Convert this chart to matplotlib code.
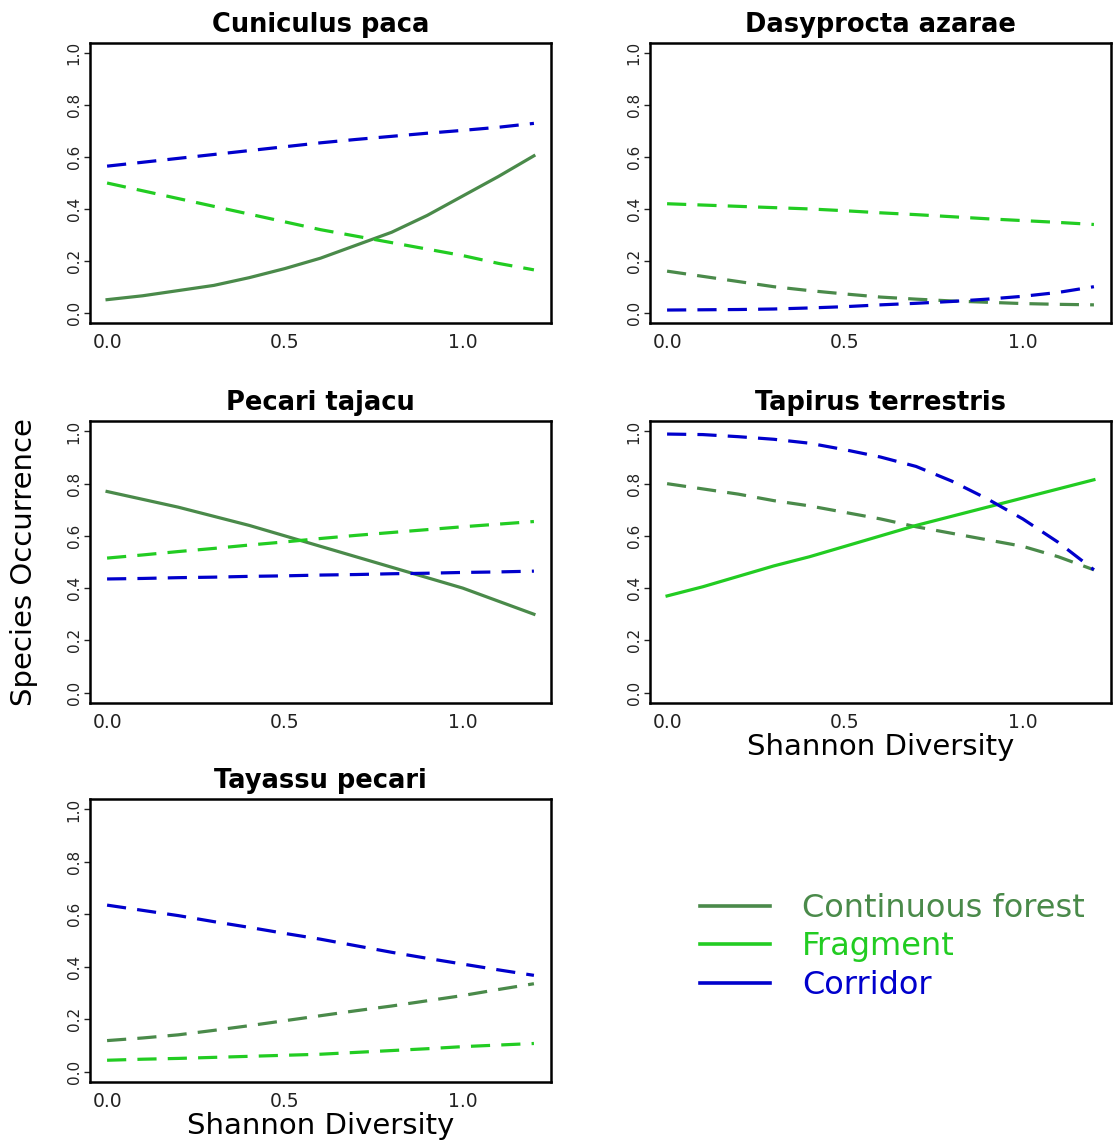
import matplotlib.pyplot as plt
from matplotlib.lines import Line2D

# Shannon diversity values where the curves were read
x = [0.0, 0.1, 0.2, 0.3, 0.4, 0.5, 0.6, 0.7, 0.8, 0.9, 1.0, 1.1, 1.2]

species = ["Cuniculus paca", "Dasyprocta azarae", "Pecari tajacu",
           "Tapirus terrestris", "Tayassu pecari"]

# predicted occurrence, one list per habitat and species
paca_cont = [0.05, 0.065, 0.085, 0.105, 0.135, 0.17, 0.21, 0.26, 0.31, 0.375, 0.45, 0.525, 0.605]
paca_frag = [0.50, 0.47, 0.44, 0.41, 0.38, 0.35, 0.32, 0.295, 0.27, 0.245, 0.22, 0.19, 0.165]
paca_corr = [0.565, 0.58, 0.595, 0.61, 0.625, 0.64, 0.655, 0.668, 0.68, 0.692, 0.703, 0.715, 0.73]

dasy_cont = [0.16, 0.14, 0.12, 0.10, 0.085, 0.072, 0.06, 0.052, 0.045, 0.04, 0.035, 0.032, 0.03]
dasy_frag = [0.42, 0.415, 0.41, 0.405, 0.40, 0.393, 0.385, 0.378, 0.37, 0.362, 0.355, 0.348, 0.34]
dasy_corr = [0.01, 0.011, 0.012, 0.014, 0.018, 0.023, 0.03, 0.036, 0.043, 0.052, 0.063, 0.078, 0.10]

taja_cont = [0.77, 0.74, 0.71, 0.675, 0.64, 0.60, 0.56, 0.52, 0.48, 0.44, 0.40, 0.35, 0.30]
taja_frag = [0.515, 0.527, 0.54, 0.552, 0.565, 0.577, 0.59, 0.602, 0.613, 0.624, 0.635, 0.645, 0.655]
taja_corr = [0.435, 0.437, 0.44, 0.442, 0.445, 0.447, 0.45, 0.452, 0.455, 0.457, 0.46, 0.462, 0.465]

tapi_cont = [0.80, 0.78, 0.76, 0.735, 0.715, 0.69, 0.665, 0.635, 0.61, 0.585, 0.56, 0.52, 0.47]
tapi_frag = [0.37, 0.405, 0.445, 0.485, 0.52, 0.56, 0.60, 0.64, 0.675, 0.71, 0.745, 0.78, 0.815]
tapi_corr = [0.99, 0.988, 0.98, 0.97, 0.955, 0.93, 0.902, 0.866, 0.81, 0.742, 0.665, 0.575, 0.47]

taya_cont = [0.118, 0.128, 0.14, 0.157, 0.175, 0.194, 0.213, 0.232, 0.25, 0.27, 0.29, 0.313, 0.335]
taya_frag = [0.043, 0.047, 0.05, 0.054, 0.058, 0.062, 0.066, 0.073, 0.08, 0.087, 0.095, 0.101, 0.107]
taya_corr = [0.635, 0.615, 0.595, 0.572, 0.55, 0.527, 0.505, 0.48, 0.455, 0.432, 0.41, 0.388, 0.367]

# which curve is drawn solid in each panel (None = all dashed)
solid = ["cont", None, "cont", "frag", None]

habitats = ["Continuous forest", "Fragment", "Corridor"]
colors = {"cont": "#4A8A4A", "frag": "#22CC22", "corr": "#0000CC"}

data = [
    {"cont": paca_cont, "frag": paca_frag, "corr": paca_corr},
    {"cont": dasy_cont, "frag": dasy_frag, "corr": dasy_corr},
    {"cont": taja_cont, "frag": taja_frag, "corr": taja_corr},
    {"cont": tapi_cont, "frag": tapi_frag, "corr": tapi_corr},
    {"cont": taya_cont, "frag": taya_frag, "corr": taya_corr},
]

W, H = 1113, 1140
fig = plt.figure(figsize=(W / 100, H / 100), dpi=100)

# axes boxes in pixels: left, top, width, height
boxes = [(90, 43, 461, 280), (650, 43, 461, 280),
         (90, 421, 461, 282), (650, 421, 461, 282),
         (90, 799, 461, 283)]

for i, (l, t, w, h) in enumerate(boxes):
    ax = fig.add_axes([l / W, 1 - (t + h) / H, w / W, h / H])
    for key in ["cont", "frag", "corr"]:
        if solid[i] == key:
            ax.plot(x, data[i][key], color=colors[key], lw=2.3)
        else:
            ax.plot(x, data[i][key], color=colors[key], lw=2.3,
                    dashes=(6, 3.5))
    ax.set_xlim(-0.048, 1.248)
    ax.set_ylim(-0.04, 1.04)
    ax.set_xticks([0.0, 0.5, 1.0])
    ax.set_xticklabels(["0.0", "0.5", "1.0"], fontsize=13.5)
    ax.set_yticks([0.0, 0.2, 0.4, 0.6, 0.8, 1.0])
    ax.set_yticklabels(["0.0", "0.2", "0.4", "0.6", "0.8", "1.0"],
                       fontsize=11, rotation=90, va="center")
    ax.tick_params(axis="x", length=0, pad=7, colors="#222222")
    ax.tick_params(axis="y", length=4, width=1, pad=2, colors="#222222")
    for s in ax.spines.values():
        s.set_linewidth(1.8)
    ax.set_title(species[i], fontsize=18.5, fontweight="bold", pad=8)
    if i in (3, 4):
        ax.set_xlabel("Shannon Diversity", fontsize=21, labelpad=1)

fig.text(24 / W, 1 - 562 / H, "Species Occurrence", fontsize=21,
         rotation=90, ha="center", va="center")

handles = [Line2D([], [], color=colors[k], lw=2.6) for k in ["cont", "frag", "corr"]]
fig.legend(handles, habitats, loc="upper left",
           bbox_to_anchor=(671 / W, 1 - 864 / H), frameon=False,
           fontsize=23, handlelength=2.2, handletextpad=1.0,
           labelspacing=0.24, labelcolor="linecolor")

fig.savefig("out.png", dpi=100)
